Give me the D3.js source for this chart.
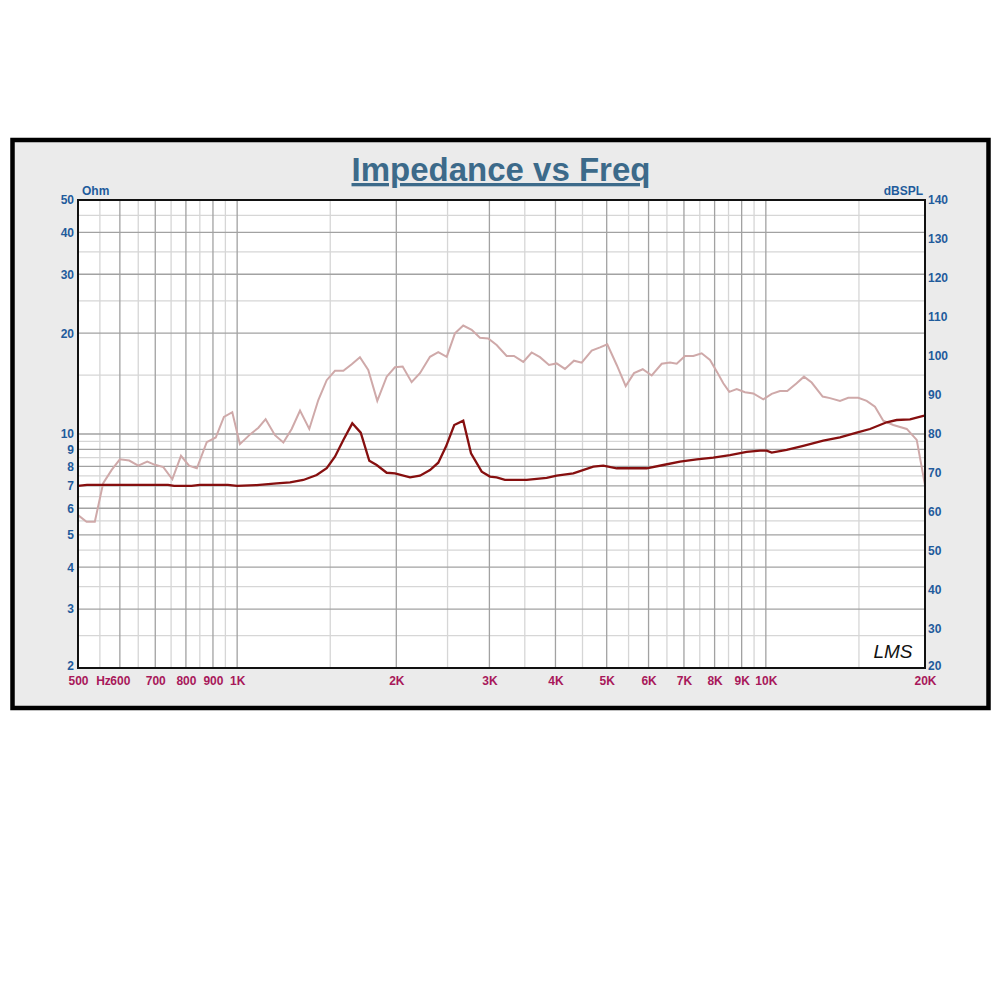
<!DOCTYPE html>
<html>
<head>
<meta charset="utf-8">
<script src="https://cdn.jsdelivr.net/npm/d3@7"></script>
<style>
  body { margin: 0; background: #fff; }
  text { font-family: "Liberation Sans", Arial, sans-serif; }
</style>
</head>
<body>
<svg id="chart" width="1000" height="1000"></svg>
<script>
// impedance curve (Ohm, left axis)
const impFreq = [500, 520, 740, 760, 820, 850, 960, 1000, 1089, 1188, 1259, 1334, 1414, 1477, 1531, 1588, 1651, 1713,
  1778, 1836, 1918, 1988, 2123, 2217, 2316, 2401, 2483, 2574, 2677, 2769, 2901, 3007, 3096, 3210, 3529,
  3850, 4021, 4323, 4717, 4927, 5223, 5952, 6398, 6881, 7400, 7955, 8554, 9199, 9749, 10036, 10257,
  10949, 11770, 12841, 13810, 14852, 15738, 16925, 17680, 18737, 19854, 20000];
const impOhm = [7.00, 7.05, 7.05, 7.00, 7.00, 7.05, 7.05, 7.00, 7.04, 7.12, 7.17, 7.29, 7.54, 7.90, 8.55, 9.60, 10.76, 10.09,
  8.32, 8.08, 7.66, 7.63, 7.42, 7.51, 7.80, 8.21, 9.17, 10.64, 10.96, 8.76, 7.72, 7.46, 7.42, 7.29, 7.29,
  7.40, 7.51, 7.63, 7.99, 8.04, 7.90, 7.90, 8.08, 8.27, 8.40, 8.50, 8.65, 8.84, 8.92, 8.92, 8.80,
  8.96, 9.21, 9.55, 9.77, 10.09, 10.35, 10.84, 11.01, 11.06, 11.32, 11.35];

// SPL curve (dBSPL, right axis)
const splFreq = [500, 519, 538, 558, 579, 600, 625, 650, 676, 699, 725, 754, 783, 811, 839, 876, 911, 944, 979,
  1012, 1058, 1097, 1132, 1179, 1223, 1268, 1315, 1369, 1424, 1477, 1531, 1588, 1647, 1707, 1770, 1841,
  1918, 1988, 2056, 2138, 2217, 2316, 2401, 2491, 2582, 2677, 2777, 2879, 2985, 3096, 3234, 3339, 3477,
  3606, 3739, 3889, 4021, 4169, 4336, 4484, 4684, 4857, 5013, 5223, 5432, 5632, 5850, 6083, 6354, 6588,
  6783, 7032, 7291, 7562, 7841, 8094, 8308, 8528, 8808, 9131, 9467, 9889, 10257, 10634, 10978, 11436,
  11806, 12208, 12807, 13222, 13810, 14318, 14956, 15514, 16084, 16677, 17419, 18470, 19292, 20000];
const splDb = [59.2, 57.5, 57.5, 67.4, 70.8, 73.5, 73.2, 71.9, 72.9, 72.1, 71.5, 68.4, 74.4, 71.9, 71.2, 77.9, 79.1, 84.4, 85.6,
  77.4, 79.9, 81.6, 83.8, 79.7, 77.8, 81.3, 86.0, 81.3, 88.7, 93.8, 96.2, 96.2, 97.9, 99.7, 96.4, 88.5,
  94.7, 97.1, 97.3, 93.3, 95.6, 99.8, 101.0, 99.8, 105.8, 107.8, 106.7, 104.7, 104.5, 102.8, 100.0, 100.0, 98.5,
  100.9, 99.7, 97.7, 98.1, 96.7, 98.8, 98.3, 101.4, 102.2, 103.0, 97.7, 92.3, 95.6, 96.6, 95.0, 98.0, 98.3,
  98.0, 100.0, 100.0, 100.7, 99.0, 95.8, 93.0, 90.8, 91.5, 90.7, 90.4, 88.9, 90.3, 91.0, 91.0, 93.0,
  94.7, 93.2, 89.6, 89.2, 88.5, 89.3, 89.3, 88.5, 87.0, 83.4, 82.3, 81.3, 78.5, 66.9];

// ticks
const xTicks = [500, 600, 700, 800, 900, 1000, 2000, 3000, 4000, 5000, 6000, 7000, 8000, 9000, 10000, 20000];
const xTickLabels = ["500", "600", "700", "800", "900", "1K", "2K", "3K", "4K", "5K", "6K", "7K", "8K", "9K", "10K", "20K"];
const yLeftTicks = [2, 3, 4, 5, 6, 7, 8, 9, 10, 20, 30, 40, 50];
const yRightTicks = [20, 30, 40, 50, 60, 70, 80, 90, 100, 110, 120, 130, 140];

const pLeft = 78, pRight = 925, pTop = 200, pBottom = 668;

const svg = d3.select("#chart");

// outer frame
svg.append("rect")
  .attr("x", 12.5).attr("y", 140).attr("width", 976).attr("height", 568)
  .attr("fill", "#ebebeb").attr("stroke", "#000").attr("stroke-width", 4.5);

svg.append("rect")
  .attr("x", pLeft).attr("y", pTop).attr("width", pRight - pLeft).attr("height", pBottom - pTop)
  .attr("fill", "#fff");

const x = d3.scaleLog().domain([500, 20000]).range([pLeft, pRight]);
const yL = d3.scaleLog().domain([2, 50]).range([pBottom, pTop]);
const yR = d3.scaleLinear().domain([20, 140]).range([pBottom, pTop]);

// grid lines: every 50 Hz below 1K, every 500 Hz to 10K, then 15K
var vMinor = [], vMajor = [];
for (var f = 550; f < 1000; f += 100) vMinor.push(f);
for (var f = 600; f < 1000; f += 100) vMajor.push(f);
for (var f = 1500; f < 10000; f += 1000) vMinor.push(f);
for (var f = 1000; f <= 10000; f += 1000) vMajor.push(f);
vMinor.push(15000);

var hMinor = [], hMajor = [];
for (var v = 2.5; v < 10; v += 1) hMinor.push(v);
for (var v = 3; v < 10; v += 1) hMajor.push(v);
for (var v = 15; v < 50; v += 10) hMinor.push(v);
for (var v = 10; v < 50; v += 10) hMajor.push(v);

const grid = svg.append("g");
grid.selectAll(".vmin").data(vMinor).enter().append("line")
  .attr("x1", d => x(d)).attr("x2", d => x(d)).attr("y1", pTop).attr("y2", pBottom)
  .attr("stroke", "#d6d6d6").attr("stroke-width", 1.3);
grid.selectAll(".hmin").data(hMinor).enter().append("line")
  .attr("x1", pLeft).attr("x2", pRight).attr("y1", d => yL(d)).attr("y2", d => yL(d))
  .attr("stroke", "#d6d6d6").attr("stroke-width", 1.3);
grid.selectAll(".vmaj").data(vMajor).enter().append("line")
  .attr("x1", d => x(d)).attr("x2", d => x(d)).attr("y1", pTop).attr("y2", pBottom)
  .attr("stroke", "#a2a2a2").attr("stroke-width", 1.3);
grid.selectAll(".hmaj").data(hMajor).enter().append("line")
  .attr("x1", pLeft).attr("x2", pRight).attr("y1", d => yL(d)).attr("y2", d => yL(d))
  .attr("stroke", "#a2a2a2").attr("stroke-width", 1.3);

// curves
const splLine = d3.line().x((d, i) => x(splFreq[i])).y(d => yR(d));
svg.append("path").datum(splDb)
  .attr("d", splLine)
  .attr("fill", "none").attr("stroke", "#cfa9a9").attr("stroke-width", 2);

const impLine = d3.line().x((d, i) => x(impFreq[i])).y(d => yL(d));
svg.append("path").datum(impOhm)
  .attr("d", impLine)
  .attr("fill", "none").attr("stroke", "#860f0f").attr("stroke-width", 2.3);

// plot border
svg.append("rect")
  .attr("x", pLeft).attr("y", pTop).attr("width", pRight - pLeft).attr("height", pBottom - pTop)
  .attr("fill", "none").attr("stroke", "#111").attr("stroke-width", 2);

// axes
const xAxis = svg.append("g").attr("transform", "translate(0," + pBottom + ")")
  .call(d3.axisBottom(x).tickValues(xTicks).tickFormat((d, i) => xTickLabels[i]).tickSize(0).tickPadding(8));
const yAxisL = svg.append("g").attr("transform", "translate(" + pLeft + ",0)")
  .call(d3.axisLeft(yL).tickValues(yLeftTicks).tickFormat(d3.format("d")).tickSize(0).tickPadding(4));
const yAxisR = svg.append("g").attr("transform", "translate(" + pRight + ",0)")
  .call(d3.axisRight(yR).tickValues(yRightTicks).tickSize(0).tickPadding(3));

[xAxis, yAxisL, yAxisR].forEach(a => {
  a.select(".domain").remove();
  a.selectAll("text").attr("font-family", "Liberation Sans, Arial, sans-serif")
    .attr("font-size", 12).attr("font-weight", "bold");
});
xAxis.selectAll("text").attr("fill", "#a8185a");
yAxisL.selectAll("text").attr("fill", "#1f5b9c");
yAxisR.selectAll("text").attr("fill", "#1f5b9c");
// lowest labels sit just above the corner so they clear the frequency labels
yAxisL.selectAll(".tick text").filter(d => d === 2).attr("dy", "0.1em");
yAxisR.selectAll(".tick text").filter(d => d === 20).attr("dy", "0.1em");

svg.append("text").attr("x", 103.5).attr("y", 684.5).attr("text-anchor", "middle")
  .attr("font-size", 12).attr("font-weight", "bold").attr("fill", "#a8185a").text("Hz");

svg.append("text").attr("x", 82).attr("y", 195)
  .attr("font-size", 12).attr("font-weight", "bold").attr("fill", "#1f5b9c").text("Ohm");
svg.append("text").attr("x", 923).attr("y", 195).attr("text-anchor", "end")
  .attr("font-size", 12).attr("font-weight", "bold").attr("fill", "#1f5b9c").text("dBSPL");

// title
svg.append("text").attr("x", 501).attr("y", 181).attr("text-anchor", "middle")
  .attr("font-size", 33).attr("font-weight", "bold").attr("fill", "#3c6a8a")
  .attr("text-decoration", "underline").text("Impedance vs Freq");

// LMS mark
svg.append("text").attr("x", 893).attr("y", 658).attr("text-anchor", "middle")
  .attr("font-family", "DejaVu Serif, serif").attr("font-style", "italic")
  .attr("font-size", 19).attr("fill", "#111").text("LMS");
</script>
</body>
</html>
